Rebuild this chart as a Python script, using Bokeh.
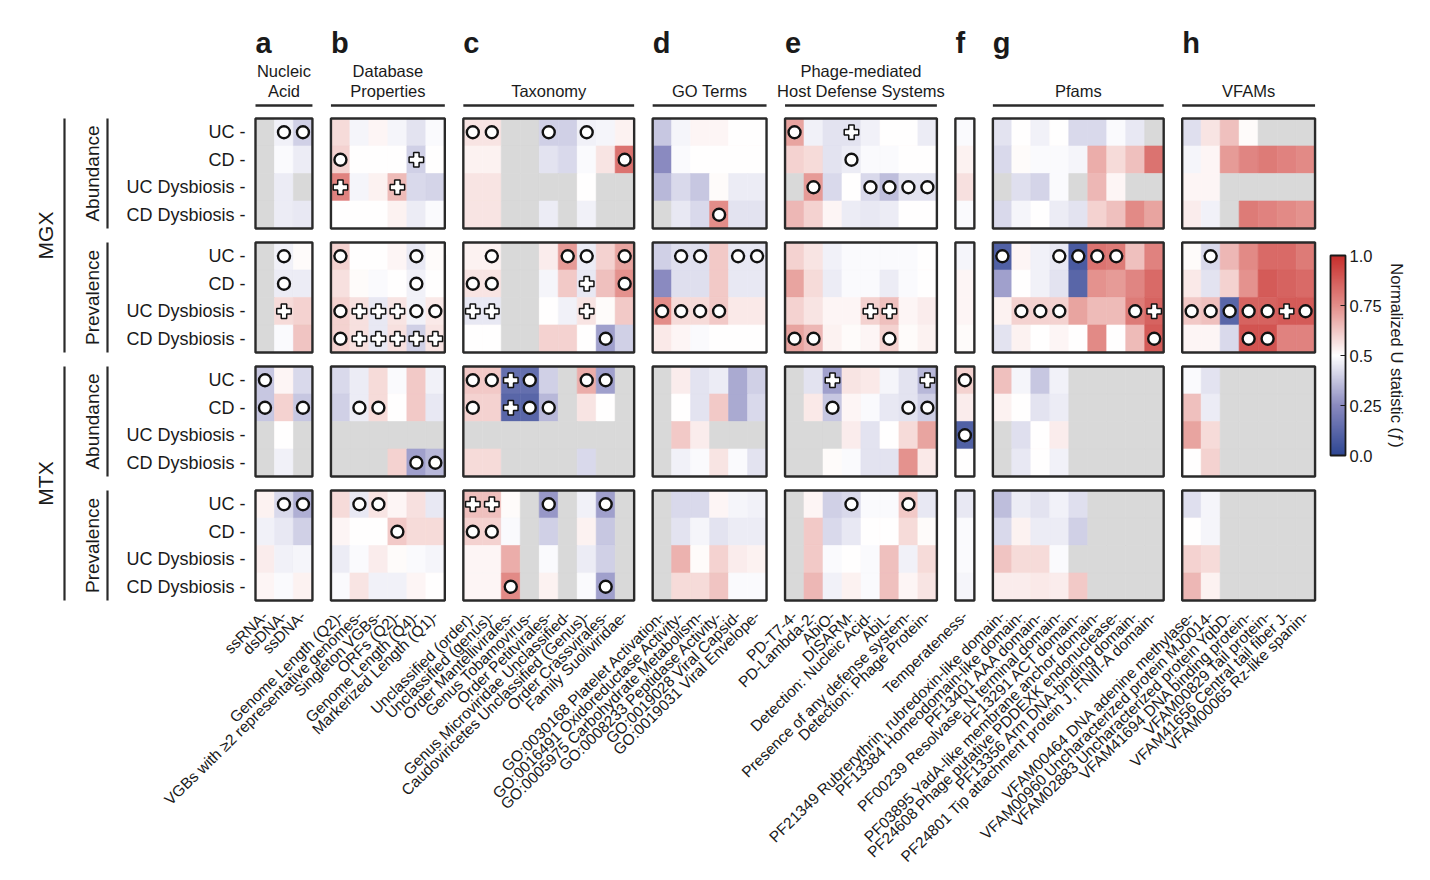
import numpy as np
from bokeh.plotting import figure
from bokeh.layouts import column, row
from bokeh.models import (ColumnDataSource, LinearColorMapper, ColorBar, FixedTicker,
                          CustomJSTickFormatter, Label, Range1d)
from bokeh.core.properties import value
from bokeh.transform import transform
from bokeh.embed import file_html
from bokeh.resources import INLINE

N = None

# ---------------- data ----------------
ROW_LABELS = ["UC", "CD", "UC Dysbiosis", "CD Dysbiosis"]
PANEL_MEASURES = ["Abundance", "Prevalence", "Abundance", "Prevalence"]
OMICS = ["MGX", "MTX"]
GROUP_LETTERS = ["a", "b", "c", "d", "e", "f", "g", "h"]
GROUP_TITLES = [["Nucleic", "Acid"], ["Database", "Properties"], ["Taxonomy"], ["GO Terms"],
                ["Phage-mediated", "Host Defense Systems"], [], ["Pfams"], ["VFAMs"]]

# rows: MGX-Abund (UC, CD, UCD, CDD), MGX-Prev, MTX-Abund, MTX-Prev
A_COLS = ["ssRNA", "dsDNA", "ssDNA"]
A_VALS = [
    [N, .47, .40], [N, .49, .46], [N, .46, N], [N, .46, .45],
    [N, .47, .51], [N, .46, .46], [N, .58, .60], [N, .49, .63],
    [.38, .52, .42], [.38, .60, .38], [N, .50, N], [N, .47, N],
    [.53, .42, .33], [.47, .45, .40], [.54, .47, .48], [.52, .49, .53],
]
A_MARKS = [".oo", "...", "...", "...", ".o.", ".o.", ".+.", "...",
           "o..", "o.o", "...", "...", ".oo", "...", "...", "..."]

B_COLS = ["Genome Length (Q2)", "VGBs with \u22652 representative genomes", "Singleton VGBs",
          "ORFs (Q2)", "Genome Length (Q4)", "Markerized Length (Q1)"]
B_VALS = [
    [.58, .48, .52, .48, .44, .49], [.60, .50, .50, .50, .40, .50],
    [.78, .48, .53, .65, .42, .41], [.50, .50, .50, .53, .46, .49],
    [.60, .50, .50, .52, .45, .51], [.57, .51, .49, .50, .47, .50],
    [.60, .57, .45, .56, .47, .55], [.60, .57, .45, .57, .40, .56],
    [.42, .46, .58, .49, .62, .47], [.40, .46, .58, .50, .62, .45],
    [N, N, N, N, N, N], [N, N, N, .60, .30, .35],
    [.58, .45, .56, .52, .57, .45], [.52, .50, .50, .62, .58, .58],
    [.46, .49, .54, .51, .49, .48], [.49, .56, .47, .47, .52, .50],
]
B_MARKS = ["......", "o...+.", "+..+..", "......", "o...o.", "....o.", "o+++oo", "o+++++",
           "......", ".oo...", "......", "....oo", ".oo...", "...o..", "......", "......"]

C_COLS = ["Unclassified (order)", "Unclassified (genus)", "Order Mantellivirales",
          "Genus Tobamovirus", "Order Petitvirales", "Genus Microviridae Unclassified",
          "Caudoviricetes Unclassified (Genus)", "Order Crassvirales", "Family Suoliviridae"]
C_VALS = [
    [.56, .56, N, N, .40, .40, .47, .48, .53],
    [.53, .53, N, N, .44, .42, .49, .56, .82],
    [.56, .56, N, N, N, N, .50, N, N],
    [.56, .56, N, N, .46, N, .47, N, N],
    [.53, .53, N, N, .54, .72, .46, .60, .70],
    [.56, .56, N, N, .48, .62, .45, .64, .74],
    [.45, .45, N, N, .50, .47, .56, .51, .62],
    [.50, .50, N, N, .60, .60, .50, .30, .40],
    [.62, .62, .15, .15, .40, N, .68, .30, N],
    [.60, .60, .12, .12, .35, N, .56, .50, N],
    [N, N, N, N, N, N, N, N, N],
    [.58, .58, N, N, N, N, .42, N, N],
    [.64, .64, .51, N, .28, N, .47, .30, N],
    [.60, .60, .49, N, .40, N, .53, .38, N],
    [.52, .52, .68, N, .49, N, .46, .40, N],
    [.52, .52, .76, N, .53, N, .49, .30, N],
]
C_MARKS = ["oo..o.o..", "........o", ".........", ".........",
           ".o...oo.o", "oo....+.o", "++....+..", ".......o.",
           "oo+o..oo.", "o.+oo....", ".........", ".........",
           "++..o..o.", "oo.......", ".........", "..o....o."]

D_COLS = ["GO:0030168 Platelet Activation", "GO:0016491 Oxidoreductase Activity",
          "GO:0005975 Carbohydrate Metabolism", "GO:0008233 Peptidase Activity",
          "GO:0019028 Viral Capsid", "GO:0019031 Viral Envelope"]
D_VALS = [
    [.38, .48, .52, .52, .50, .50], [.25, .49, .50, .50, .50, .50],
    [.35, .42, .38, .51, .46, .46], [N, .45, .42, .75, .44, .44],
    [.40, .43, .43, .62, .45, .45], [.25, .43, .43, .62, .45, .45],
    [.75, .58, .58, .62, .55, .55], [.55, .52, .49, .50, .50, .50],
    [N, .54, .44, .46, .32, .40], [N, .50, .44, .62, .32, .42],
    [N, .62, .54, N, N, N], [N, .47, .49, .56, .49, .44],
    [N, .42, .42, .52, .48, .47], [N, .44, .48, .44, .46, .46],
    [N, .67, .51, .60, .54, .53], [N, .58, .58, .63, .49, .49],
]
D_MARKS = ["......", "......", "......", "...o..", ".oo.oo", "......", "oooo..", "......",
           "......", "......", "......", "......", "......", "......", "......", "......"]

E_COLS = ["PD-T7-4", "PD-Lambda-2", "AbiO", "DISARM", "Detection: Nucleic Acid", "AbiL",
          "Presence of any defense system", "Detection: Phage Protein"]
E_VALS = [
    [.70, .47, .44, .44, .47, .50, .50, .46],
    [.60, .58, .44, .46, .49, .49, .50, .50],
    [N, .72, .42, .50, .42, .36, .44, .44],
    [.66, .60, .52, .46, .45, .46, .50, .50],
    [.60, .56, .47, .49, .49, .49, .49, .50],
    [.70, .58, .46, .49, .49, .46, .49, .50],
    [.60, .56, .52, .52, .60, .64, .52, .54],
    [.70, .66, .53, .51, .52, .60, .51, .53],
    [N, .44, .30, .56, .55, .48, .44, .35],
    [N, .55, .38, .52, .49, .45, .44, .40],
    [N, N, N, .54, .44, .50, .58, .70],
    [N, N, .51, .49, .44, .44, .74, .55],
    [N, .52, .40, .42, .49, .49, .62, .45],
    [N, .62, .42, .45, .50, .50, .58, .51],
    [N, .62, .49, .50, .49, .64, .47, .58],
    [N, .66, .47, .53, .49, .64, .52, .56],
]
E_MARKS = ["o..+....", "...o....", ".o..oooo", "........",
           "........", "........", "....++..", "oo...o..",
           "..+....+", "..o...oo", "........", "........",
           "...o..o.", "........", "........", "........"]

F_COLS = ["Temperateness"]
F_VALS = [[.49], [.53], [.57], [.49], [.48], [.52], [.52], [.51],
          [.60], [.54], [.10], [.50], [.45], [.49], [.49], [.48]]
F_MARKS = [".", ".", ".", ".", ".", ".", ".", ".", "o", ".", "o", ".", ".", ".", ".", "."]

G_COLS = ["PF21349 Rubrerythrin, rubredoxin-like domain", "PF13384 Homeodomain-like domain",
          "PF13401 AAA domain", "PF00239 Resolvase, N terminal domain", "PF13291 ACT domain",
          "PF03895 YadA-like membrane anchor domain", "PF24608 Phage putative PDDEXK endonuclease",
          "PF13356 Arm DNA-binding domain", "PF24801 Tip attachment protein J, FNIII-A domain"]
G_VALS = [
    [.44, .50, .47, .50, .42, .42, .49, .45, N],
    [.42, .51, .49, .49, .48, .68, .58, .64, .82],
    [N, .43, .41, .49, N, .66, .52, N, N],
    [.42, .48, .50, .46, .44, .60, .64, .76, .70],
    [.10, .52, .47, .45, .08, .82, .80, .64, .78],
    [.30, .50, .47, .44, .12, .74, .72, .77, .84],
    [.53, .60, .60, .60, .70, .65, .65, .80, .86],
    [.44, .53, .50, .52, .50, .76, .50, .65, .88],
    [.64, .48, .38, .47, N, N, N, N, N],
    [.53, .50, .44, .46, N, N, N, N, N],
    [N, .43, .50, .54, N, N, N, N, N],
    [N, .45, .50, .47, N, N, N, N, N],
    [.36, .46, .44, .47, .43, N, N, N, N],
    [.42, .53, .46, .46, .40, N, N, N, N],
    [.63, .58, .58, .49, N, N, N, N, N],
    [.54, .54, .55, .54, .62, N, N, N, N],
]
G_MARKS = [".........", ".........", ".........", ".........",
           "o..oooo..", ".........", ".ooo...o+", "........o",
           ".........", ".........", ".........", ".........",
           ".........", ".........", ".........", "........."]

H_COLS = ["VFAM00464 DNA adenine methylase", "VFAM00960 Uncharacterized protein MJ0014",
          "VFAM02883 Uncharacterized protein YqbD", "VFAM41694 DNA binding protein",
          "VFAM00829 Tail protein", "VFAM41656 Central tail fiber J", "VFAM00065 Rz-like spanin"]
H_VALS = [
    [.43, .56, .64, .51, N, N, N],
    [.48, .52, .72, .77, .80, .78, .76],
    [.52, .52, N, N, N, N, N],
    [.54, .47, N, .80, .78, .76, .74],
    [.51, .42, .66, .76, .84, .84, .80],
    [.55, .44, .60, .74, .88, .86, .84],
    [.62, .64, .12, .86, .86, .88, .88],
    [.52, .52, .42, .90, .90, .78, .78],
    [.49, .44, N, N, N, N, N],
    [.64, .46, N, N, N, N, N],
    [.70, .58, N, N, N, N, N],
    [.50, .60, N, N, N, N, N],
    [.43, .48, N, N, N, N, N],
    [.50, .48, N, N, N, N, N],
    [.60, .58, N, N, N, N, N],
    [.66, .53, N, N, N, N, N],
]
H_MARKS = [".......", ".......", ".......", ".......",
           ".o.....", ".......", "ooooo+o", "...oo..",
           ".......", ".......", ".......", ".......",
           ".......", ".......", ".......", "......."]

COLORBAR_TICKS = [0.0, 0.25, 0.5, 0.75, 1.0]
COLORBAR_LABELS = ["0.0", "0.25", "0.5", "0.75", "1.0"]
COLORBAR_TITLE = "Normalized U statistic (\u0192)"

GROUPS = [(A_COLS, A_VALS, A_MARKS), (B_COLS, B_VALS, B_MARKS), (C_COLS, C_VALS, C_MARKS),
          (D_COLS, D_VALS, D_MARKS), (E_COLS, E_VALS, E_MARKS), (F_COLS, F_VALS, F_MARKS),
          (G_COLS, G_VALS, G_MARKS), (H_COLS, H_VALS, H_MARKS)]

# ---------------- layout ----------------
FONT = "Liberation Sans"
TXT = "#1a1a1a"
LINE = "#2a2a2a"
PX = 18.98      # px per column unit
PY = 27.5       # px per row unit
ORIGIN_X = 255  # page x of first column edge
ORIGIN_Y = 118  # page y of first row edge
GAP = 0.975     # gap between column groups (in columns)
PGAP = 0.509    # gap between row panels (in rows)

W, H = 1425, 875
TOP_H = 114          # header strip height
LEFT_W = 112         # left label strip width
FL, FB = 251, 604    # main frame left / bottom (page px)


def dx(px):
    return (px - ORIGIN_X) / PX


def dy(py):
    return -(py - ORIGIN_Y) / PY


x_off = []
cur = 0.0
for cols, _, _ in GROUPS:
    x_off.append(cur)
    cur += len(cols) + GAP


def panel_top(p):
    return -(p * (4 + PGAP))


def row_y(p, r):
    return panel_top(p) - r - 0.5


cx, cy, cv = [], [], []
ox, oy, px_, py_ = [], [], [], []
tick_pos, tick_lab = [], []
for gi, (cols, vals, marks) in enumerate(GROUPS):
    for ci, name in enumerate(cols):
        tick_pos.append(x_off[gi] + ci + 0.5)
        tick_lab.append(name + "-")
    for ri in range(16):
        p, r = divmod(ri, 4)
        for ci in range(len(cols)):
            x = x_off[gi] + ci + 0.5
            y = row_y(p, r)
            v = vals[ri][ci]
            cx.append(x)
            cy.append(y)
            cv.append(np.nan if v is None else v)
            m = marks[ri][ci]
            if m == "o":
                ox.append(x); oy.append(y)
            elif m == "+":
                px_.append(x); py_.append(y)

# palette (blue - white - red)
anchors = [(0.0, (0x2D, 0x46, 0x93)), (0.25, (0x8A, 0x8A, 0xC0)), (0.5, (0xFF, 0xFF, 0xFF)),
           (0.75, (0xE3, 0x8E, 0x8A)), (1.0, (0xC7, 0x2E, 0x2C))]
palette = []
for i in range(256):
    t = i / 255
    for (t0, c0), (t1, c1) in zip(anchors[:-1], anchors[1:]):
        if t0 <= t <= t1:
            f = (t - t0) / (t1 - t0)
            rgb = [round(a + (b - a) * f) for a, b in zip(c0, c1)]
            palette.append("#%02x%02x%02x" % tuple(rgb))
            break
mapper = LinearColorMapper(palette=palette, low=0, high=1, nan_color="#d9d9d9")


def bare_fig(width, height, xr, yr):
    f = figure(width=width, height=height, output_backend="svg", toolbar_location=None,
               x_range=xr, y_range=yr, min_border=0, x_axis_location=None, y_axis_location=None)
    f.grid.visible = False
    f.outline_line_color = None
    return f


# ---------- main figure ----------
MW, MH = W - LEFT_W, H - TOP_H
main = figure(width=MW, height=MH, output_backend="svg", toolbar_location=None,
              x_range=Range1d(dx(FL), dx(W)), y_range=Range1d(dy(FB), dy(TOP_H)),
              min_border_left=FL - LEFT_W, min_border_right=0, min_border_top=0,
              min_border_bottom=H - FB)
main.grid.visible = False
main.outline_line_color = None

src = ColumnDataSource(dict(x=cx, y=cy, v=cv))
main.rect("x", "y", width=1, height=1, source=src, fill_color=transform("v", mapper),
          line_color=transform("v", mapper), line_width=0.6)

bl, br, bt, bb = [], [], [], []
for gi, (cols, _, _) in enumerate(GROUPS):
    for pi in range(4):
        bl.append(x_off[gi]); br.append(x_off[gi] + len(cols))
        bt.append(panel_top(pi)); bb.append(panel_top(pi) - 4)
main.quad(left=bl, right=br, top=bt, bottom=bb, fill_color=None, line_color=LINE, line_width=2.4)

main.scatter(ox, oy, marker="circle", size=12, fill_color="white", line_color="#111111", line_width=2.4)
main.scatter(px_, py_, marker="plus", size=14.5, fill_color="white", line_color="#111111", line_width=1.5)

JS_LOOKUP = """
const i = pos.findIndex(q => Math.abs(q - tick) < 1e-6);
return i >= 0 ? labels[i] : "";
"""
main.xaxis.ticker = FixedTicker(ticks=tick_pos)
main.xaxis.formatter = CustomJSTickFormatter(args=dict(pos=tick_pos, labels=tick_lab), code=JS_LOOKUP)
main.xaxis.major_label_orientation = 0.775
main.xaxis.axis_line_color = None
main.xaxis.major_tick_line_color = None
main.xaxis.minor_tick_line_color = None
main.xaxis.major_label_standoff = 3
main.xaxis.major_label_text_font = FONT
main.xaxis.major_label_text_font_size = "15.5px"
main.xaxis.major_label_text_color = TXT

ypos, ylab = [], []
for pi in range(4):
    for r, name in enumerate(ROW_LABELS):
        ypos.append(row_y(pi, r))
        ylab.append(name + " -")
main.yaxis.ticker = FixedTicker(ticks=ypos)
main.yaxis.formatter = CustomJSTickFormatter(args=dict(pos=ypos, labels=ylab), code=JS_LOOKUP)
main.yaxis.axis_line_color = None
main.yaxis.major_tick_line_color = None
main.yaxis.minor_tick_line_color = None
main.yaxis.major_label_standoff = 0
main.yaxis.major_label_text_font = FONT
main.yaxis.major_label_text_font_size = "18px"
main.yaxis.major_label_text_color = TXT

cb = ColorBar(color_mapper=mapper, orientation="vertical", width=15, height=200,
              location=(1330 - FL, FB - 455), padding=0,
              ticker=FixedTicker(ticks=COLORBAR_TICKS),
              formatter=CustomJSTickFormatter(args=dict(pos=COLORBAR_TICKS, labels=COLORBAR_LABELS),
                                              code=JS_LOOKUP),
              major_label_text_font=FONT, major_label_text_font_size="16.5px",
              major_label_text_color=TXT, major_tick_line_color="#1a1a1a", major_tick_in=5,
              major_tick_out=0, minor_tick_line_color=None, bar_line_color="#1a1a1a",
              bar_line_width=1.8, background_fill_alpha=0, border_line_color=None,
              label_standoff=4)
main.add_layout(cb, "center")
main.add_layout(Label(x=dx(1396), y=dy(355), text=COLORBAR_TITLE, angle=-np.pi / 2,
                      text_font=FONT, text_font_size="16.5px", text_color=TXT,
                      text_align="center", text_baseline="middle"))

# ---------- header strip ----------
top = bare_fig(W, TOP_H, Range1d(dx(0), dx(W)), Range1d(dy(TOP_H), dy(0)))
lx, ly, lt = [], [], []
tx, ty, tt = [], [], []
sx0, sx1, sy = [], [], []
for gi, (cols, _, _) in enumerate(GROUPS):
    n = len(cols)
    lx.append(x_off[gi]); ly.append(dy(42)); lt.append(GROUP_LETTERS[gi])
    lines = GROUP_TITLES[gi]
    for li, line in enumerate(reversed(lines)):
        tx.append(x_off[gi] + n / 2); ty.append(dy(90 - 20 * li)); tt.append(line)
    if lines:
        sx0.append(x_off[gi]); sx1.append(x_off[gi] + n); sy.append(dy(105))
top.text(lx, ly, text=lt, text_font=value(FONT), text_font_size=value("29px"),
         text_font_style=value("bold"), text_color=TXT, text_baseline="alphabetic",
         text_align="left")
top.text(tx, ty, text=tt, text_font=value(FONT), text_font_size=value("16.5px"),
         text_color=TXT, text_baseline="alphabetic", text_align="center")
top.segment(x0=sx0, y0=sy, x1=sx1, y1=sy, line_width=2.5, line_color=LINE)

# ---------- left strip (its frame is aligned with the main frame) ----------
left = bare_fig(LEFT_W, MH, Range1d(0, LEFT_W), Range1d(dy(FB), dy(TOP_H)))
mx, my, mt = [], [], []
vx, vy0, vy1 = [], [], []
for pi in range(4):
    t_, b_ = panel_top(pi), panel_top(pi) - 4
    mx.append(92); my.append((t_ + b_) / 2); mt.append(PANEL_MEASURES[pi])
    vx.append(107); vy0.append(t_); vy1.append(b_)
left.text(mx, my, text=mt, angle=np.pi / 2, text_font=value(FONT), text_font_size=value("19px"),
          text_color=TXT, text_align="center", text_baseline="middle")
gx, gy, gt = [], [], []
for oi in range(2):
    t_, b_ = panel_top(2 * oi), panel_top(2 * oi + 1) - 4
    gx.append(45); gy.append((t_ + b_) / 2); gt.append(OMICS[oi])
    vx.append(64); vy0.append(t_); vy1.append(b_)
left.text(gx, gy, text=gt, angle=np.pi / 2, text_font=value(FONT), text_font_size=value("21px"),
          text_color=TXT, text_align="center", text_baseline="middle")
left.segment(x0=vx, y0=vy0, x1=vx, y1=vy1, line_width=2.2, line_color=LINE)

layout = column(top, row(left, main))
open("out.html", "w").write(file_html(layout, INLINE))
